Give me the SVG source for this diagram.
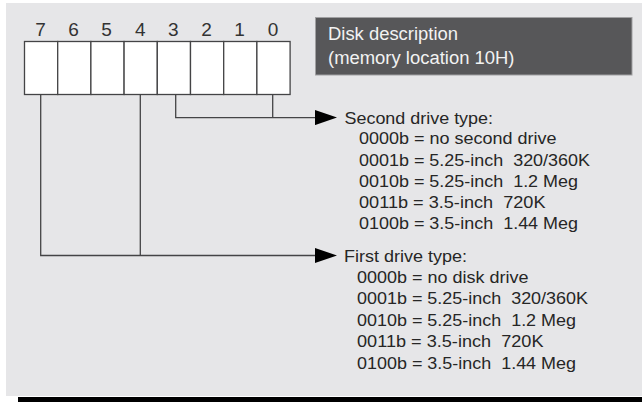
<svg xmlns="http://www.w3.org/2000/svg" width="642" height="402" viewBox="0 0 642 402">
  <defs>
    <style>
      .cell { fill: #ffffff; stroke: #444446; stroke-width: 1.3; }
      .conn { fill: none; stroke: #444446; stroke-width: 1.3; }
      .bitnum { font-family: "Liberation Sans", Arial, sans-serif; font-size: 19px; fill: #333333; text-anchor: middle; }
      .title { font-family: "Liberation Sans", Arial, sans-serif; font-size: 18px; fill: #f2f2f2; }
      .lbl { font-family: "Liberation Sans", Arial, sans-serif; font-size: 17px; fill: #262626; white-space: pre; }
    </style>
    <marker id="arrow" markerUnits="userSpaceOnUse" markerWidth="22" markerHeight="15" refX="0" refY="7.5" orient="auto">
      <path d="M0,0 L22,7.5 L0,15 Z" fill="#000000"/>
    </marker>
  </defs>

  <g id="background">
    <rect x="6" y="3" width="636" height="393" fill="#e6e6e8"/>
    <rect x="18" y="397" width="624" height="5" fill="#000000"/>
  </g>

  <g id="title">
    <rect x="315.5" y="17.5" width="316.5" height="57.5" fill="#575759" stroke="#a0a0a2" stroke-width="1"/>
    <text class="title" x="328" y="39.5" textLength="130" lengthAdjust="spacingAndGlyphs">Disk description</text>
    <text class="title" x="328" y="63.5" textLength="186.5" lengthAdjust="spacingAndGlyphs">(memory location 10H)</text>
  </g>

  <g id="register">
    <rect class="cell" x="24.5" y="41.5" width="33.2" height="53"/>
    <rect class="cell" x="57.7" y="41.5" width="33.2" height="53"/>
    <rect class="cell" x="90.9" y="41.5" width="33.2" height="53"/>
    <rect class="cell" x="124.1" y="41.5" width="33.2" height="53"/>
    <rect class="cell" x="157.3" y="41.5" width="33.2" height="53"/>
    <rect class="cell" x="190.5" y="41.5" width="33.2" height="53"/>
    <rect class="cell" x="223.7" y="41.5" width="33.2" height="53"/>
    <rect class="cell" x="256.9" y="41.5" width="33.2" height="53"/>
    <text class="bitnum" x="40.6" y="36">7</text>
    <text class="bitnum" x="73.6" y="36">6</text>
    <text class="bitnum" x="106.6" y="36">5</text>
    <text class="bitnum" x="140.2" y="36">4</text>
    <text class="bitnum" x="173.4" y="36">3</text>
    <text class="bitnum" x="206.6" y="36">2</text>
    <text class="bitnum" x="239.6" y="36">1</text>
    <text class="bitnum" x="273" y="36">0</text>
  </g>

  <g id="connectors">
    <path class="conn" d="M175.7,94.5 V117.6 H315" marker-end="url(#arrow)"/>
    <path class="conn" d="M272.7,94.5 V117.6"/>
    <path class="conn" d="M40.7,94.5 V255.5 H315" marker-end="url(#arrow)"/>
    <path class="conn" d="M140.3,94.5 V255.5"/>
  </g>

  <g id="second-drive">
    <text class="lbl" x="344.5" y="123.5" textLength="148.5" lengthAdjust="spacingAndGlyphs">Second drive type:</text>
    <text class="lbl" x="359" y="144.3" textLength="197.5" lengthAdjust="spacingAndGlyphs">0000b = no second drive</text>
    <text class="lbl" x="359" y="165.5" textLength="231" lengthAdjust="spacingAndGlyphs">0001b = 5.25-inch  320/360K</text>
    <text class="lbl" x="359" y="186.6" textLength="219" lengthAdjust="spacingAndGlyphs">0010b = 5.25-inch  1.2 Meg</text>
    <text class="lbl" x="359" y="208" textLength="186.5" lengthAdjust="spacingAndGlyphs">0011b = 3.5-inch  720K</text>
    <text class="lbl" x="359" y="229.3" textLength="219" lengthAdjust="spacingAndGlyphs">0100b = 3.5-inch  1.44 Meg</text>
  </g>

  <g id="first-drive">
    <text class="lbl" x="344" y="261.7" textLength="123" lengthAdjust="spacingAndGlyphs">First drive type:</text>
    <text class="lbl" x="357" y="282.5" textLength="171.5" lengthAdjust="spacingAndGlyphs">0000b = no disk drive</text>
    <text class="lbl" x="357" y="304" textLength="231" lengthAdjust="spacingAndGlyphs">0001b = 5.25-inch  320/360K</text>
    <text class="lbl" x="357" y="325.5" textLength="219" lengthAdjust="spacingAndGlyphs">0010b = 5.25-inch  1.2 Meg</text>
    <text class="lbl" x="357" y="347" textLength="186.5" lengthAdjust="spacingAndGlyphs">0011b = 3.5-inch  720K</text>
    <text class="lbl" x="357" y="368.5" textLength="219" lengthAdjust="spacingAndGlyphs">0100b = 3.5-inch  1.44 Meg</text>
  </g>
</svg>
